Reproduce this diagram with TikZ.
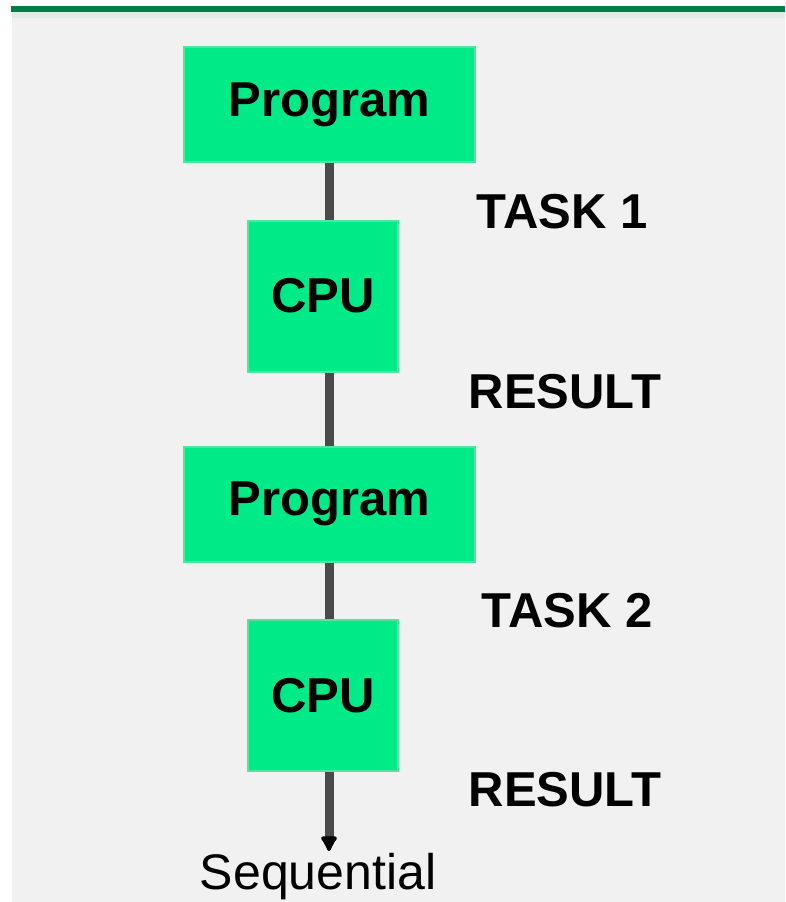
\documentclass[tikz,border=0pt]{standalone}
\usepackage{fontspec}
\setmainfont{Liberation Sans}
\usetikzlibrary{arrows.meta}

\definecolor{boxfill}{RGB}{0,235,136}
\definecolor{boxedge}{RGB}{80,228,160}
\definecolor{topbar}{RGB}{0,128,70}
\definecolor{topstrip}{RGB}{224,236,232}
\definecolor{panel}{RGB}{241,241,241}
\definecolor{wire}{RGB}{74,74,74}

\tikzset{
  progbox/.style={fill=boxfill, draw=boxedge, line width=2pt,
    minimum width=291pt, minimum height=115pt, inner sep=0pt,
    font=\fontsize{49}{49}\selectfont\bfseries},
  cpubox/.style={progbox, minimum width=150pt, minimum height=151pt},
  steplabel/.style={font=\fontsize{49}{49}\selectfont\bfseries, text=black},
  flow/.style={draw=wire, line width=9pt}
}

\begin{document}
\begin{tikzpicture}[x=1pt,y=-1pt]

  \def\xmax{785}
  \def\ymax{902}

  % background
  \fill[white] (0,0) rectangle (\xmax,\ymax);
  \useasboundingbox (0,0) rectangle (\xmax,\ymax);
  \fill[panel] (12,12) rectangle (\xmax,\ymax);
  \fill[topstrip] (12,12) rectangle (\xmax,18);
  \fill[topbar] (11,6) rectangle (\xmax,12);

  % boxes
  \node[progbox] (prog1) at (329.5,104.5) {Program};
  \node[cpubox] (cpu1) at (323,296) {CPU};
  \node[progbox] (prog2) at (329.5,504) {Program};
  \node[cpubox] (cpu2) at (323,695.5) {CPU};

  % flow
  \coordinate (seqend) at (329,851);
  \draw[flow] (prog1.south -| 329,0) -- (cpu1.north -| 329,0);
  \draw[flow] (cpu1.south -| 329,0) -- (prog2.north -| 329,0);
  \draw[flow] (prog2.south -| 329,0) -- (cpu2.north -| 329,0);
  \draw[flow, -{Latex[length=18pt,width=20pt,round,color=black]}] (cpu2.south -| 329,0) -- (seqend);
  \node[font=\fontsize{50}{50}\selectfont, anchor=base] (seq) at (318,889) {Sequential};

  % labels
  \node[steplabel] (task1) at (562,212) {TASK 1};
  \node[steplabel] (res1) at (565,392) {RESULT};
  \node[steplabel] (task2) at (567,611) {TASK 2};
  \node[steplabel] (res2) at (565,790) {RESULT};

\end{tikzpicture}
\end{document}
